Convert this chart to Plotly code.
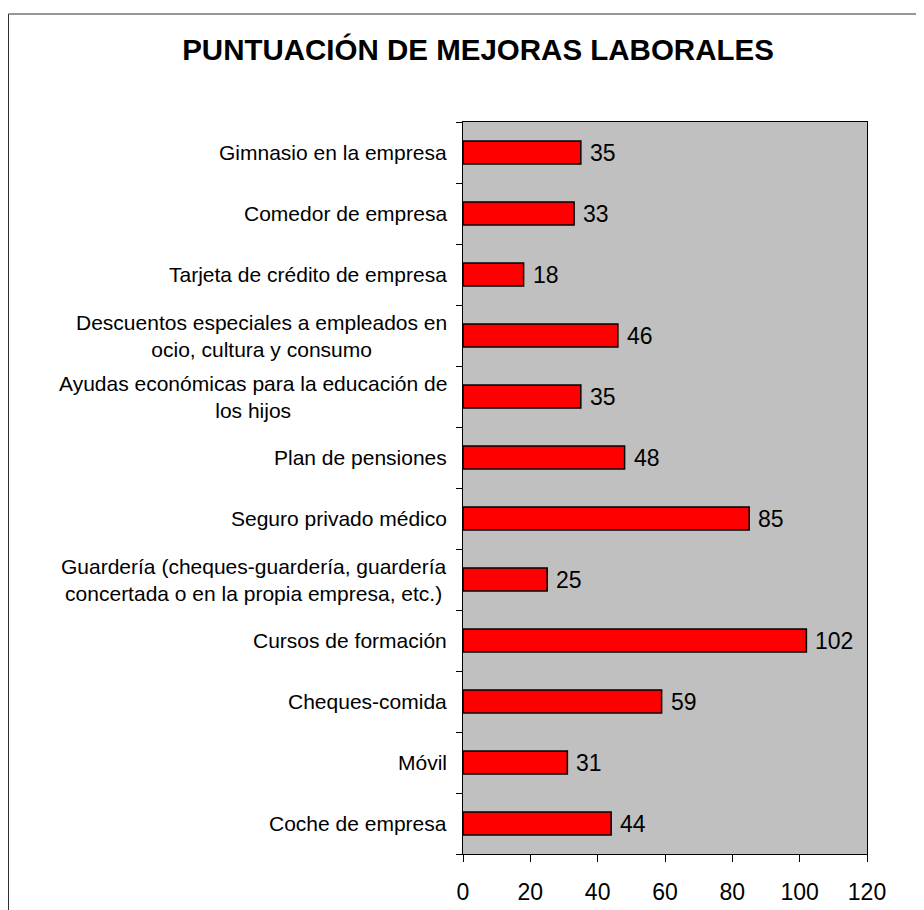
import plotly.graph_objects as go

# Data (bottom to top, as Plotly draws categories on a horizontal bar chart)
categories = [
    "Coche de empresa",
    "Móvil",
    "Cheques-comida",
    "Cursos de formación",
    "Guardería (cheques-guardería, guardería<br>concertada o en la propia empresa, etc.)",
    "Seguro privado médico",
    "Plan de pensiones",
    "Ayudas económicas para la educación de<br>los hijos",
    "Descuentos especiales a empleados en<br>ocio, cultura y consumo",
    "Tarjeta de crédito de empresa",
    "Comedor de empresa",
    "Gimnasio en la empresa",
]
values = [44, 31, 59, 102, 25, 85, 48, 35, 46, 18, 33, 35]
x_ticks = [0, 20, 40, 60, 80, 100, 120]
title_text = "PUNTUACIÓN DE MEJORAS LABORALES"

FONT = "Liberation Sans, Arial, sans-serif"
OFF = 8  # page body margin
W, H = 924 - OFF, 910 - OFF
L, T = 463 - OFF, 122 - OFF
PR, PB = 867 - OFF, 854 - OFF
R, B = W - PR, H - PB
pw, ph = W - L - R, H - T - B

fig = go.Figure()
fig.add_trace(go.Bar(
    y=categories, x=values, orientation="h",
    marker=dict(color="#FF0000", line=dict(color="#000000", width=1.5)),
    hoverinfo="x+y", showlegend=False,
))

annotations = []
# value labels
for c, v in zip(categories, values):
    annotations.append(dict(
        x=v, y=c, xref="x", yref="y", text=str(v), showarrow=False,
        xanchor="left", yanchor="middle", xshift=7,
        font=dict(family=FONT, size=23, color="#000000"),
    ))
# category labels (centered multi-line)
for c in categories:
    annotations.append(dict(
        x=0, y=c, xref="paper", yref="y", text=c, showarrow=False,
        xanchor="right", yanchor="middle", xshift=-14, align="center",
        font=dict(family=FONT, size=21, color="#000000"),
    ))

fig.update_layout(
    width=W, height=H, autosize=False,
    margin=dict(l=L, r=R, t=T, b=B, pad=0, autoexpand=False),
    paper_bgcolor="#FFFFFF", plot_bgcolor="#C0C0C0",
    bargap=0.62,
    title=dict(
        text="<b>" + title_text + "</b>",
        font=dict(family=FONT, size=29.5, color="#000000"),
        x=(478 - OFF - L) / pw, xref="paper", xanchor="center",
        y=1 - (50 - OFF) / H, yref="container", yanchor="middle",
        automargin=False,
    ),
    xaxis=dict(
        range=[0, 120], tickvals=x_ticks, ticks="outside", ticklen=7,
        tickcolor="#000000", showgrid=False, zeroline=False,
        showline=True, linecolor="#000000", linewidth=1, mirror=True,
        tickfont=dict(family=FONT, size=23, color="#000000"),
        ticklabelstandoff=10, automargin=False,
    ),
    yaxis=dict(
        type="category", categoryorder="array", categoryarray=categories,
        tickson="boundaries", ticks="outside", ticklen=6, tickcolor="#000000",
        showticklabels=False, showgrid=False, zeroline=False,
        showline=True, linecolor="#000000", linewidth=1, mirror=True,
        automargin=False,
    ),
    annotations=annotations,
    shapes=[dict(
        type="rect", xref="paper", yref="paper",
        x0=(8 - OFF - L) / pw + 0.5 / pw, x1=(W + 20 - L) / pw,
        y0=-(B + 20) / ph, y1=(H - B - (14 - OFF)) / ph,
        line=dict(color="#303030", width=1), fillcolor="rgba(0,0,0,0)",
        layer="below",
    )],
)

fig.write_html("out.html")
